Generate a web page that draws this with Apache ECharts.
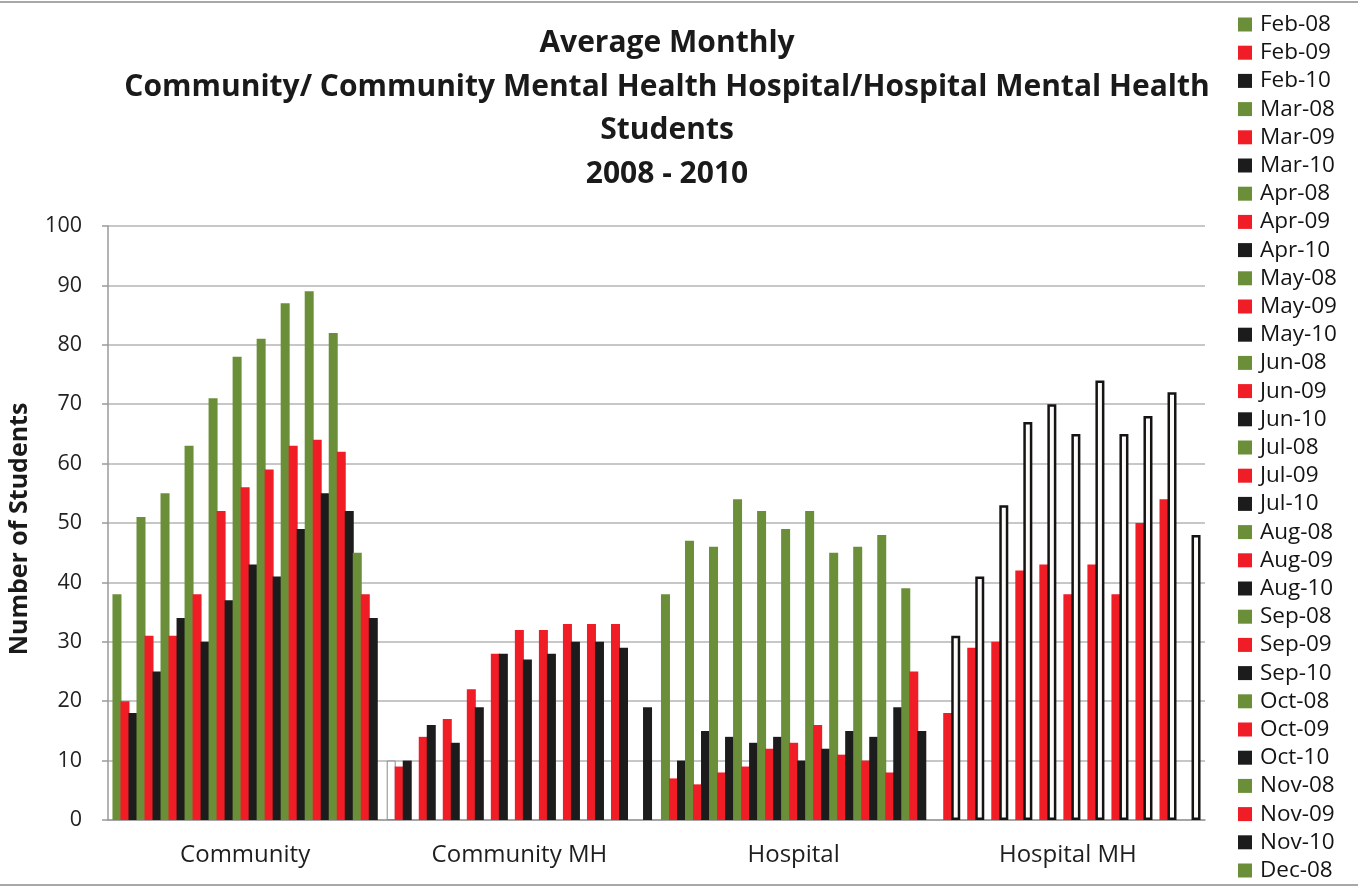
<!DOCTYPE html>
<html>
<head>
<meta charset="utf-8">
<script src="https://cdn.jsdelivr.net/npm/echarts@6/dist/echarts.min.js"></script>
<style>
  html, body { margin: 0; padding: 0; background: #ffffff; }
  #chart { width: 1358px; height: 888px; }
</style>
</head>
<body>
<div id="chart"></div>
<script>
// Areas on the category axis
const categories = ['Community', 'Community MH', 'Hospital', 'Hospital MH'];
// Months Feb..Dec and the three years; each series is "Mon-YY"
const months = ['Feb', 'Mar', 'Apr', 'May', 'Jun', 'Jul', 'Aug', 'Sep', 'Oct', 'Nov', 'Dec'];
const years = ['08', '09', '10'];

// Average monthly student counts, Feb..Dec, one list per area and year
const community08 = [38, 51, 55, 63, 71, 78, 81, 87, 89, 82, 45];
const community09 = [20, 31, 31, 38, 52, 56, 59, 63, 64, 62, 38];
const community10 = [18, 25, 34, 30, 37, 43, 41, 49, 55, 52, 34];

const communityMH08 = [10, 0, 0, 0, 0, 0, 0, 0, 0, 0, 0];
const communityMH09 = [9, 14, 17, 22, 28, 32, 32, 33, 33, 33, 0];
const communityMH10 = [10, 16, 13, 19, 28, 27, 28, 30, 30, 29, 19];

const hospital08 = [38, 47, 46, 54, 52, 49, 52, 45, 46, 48, 39];
const hospital09 = [7, 6, 8, 9, 12, 13, 16, 11, 10, 8, 25];
const hospital10 = [10, 15, 14, 13, 14, 10, 12, 15, 14, 19, 15];

const hospitalMH08 = [0, 0, 0, 0, 0, 0, 0, 0, 0, 0, 0];
const hospitalMH09 = [18, 29, 30, 42, 43, 38, 43, 38, 50, 54, 0];
const hospitalMH10 = [31, 41, 53, 67, 70, 65, 74, 65, 68, 72, 48];

// Value axis range and step
const yMin = 0;
const yMax = 100;
const yStep = 10;

const titleLines = [
  'Average Monthly',
  'Community/ Community Mental Health Hospital/Hospital Mental Health',
  'Students',
  '2008 - 2010'
];

// How many legend entries fit down the right-hand column
const legendShown = 31;

// ---- build the chart from the lists above ----
const byArea = [
  [community08, community09, community10],
  [communityMH08, communityMH09, communityMH10],
  [hospital08, hospital09, hospital10],
  [hospitalMH08, hospitalMH09, hospitalMH10]
];

const yearColors = ['#6b8f38', '#f01c26', '#1c1c1c'];
const FONT = '"Open Sans", Lato, sans-serif';

// outlined bars as printed: 2010 bars in Hospital MH and the single 2008 bar in Community MH
const hollowDark = { color: '#fffafa', borderColor: '#141414', borderWidth: 2.5 };
const hollowLight = { color: '#ffffff', borderColor: '#8a8a8a', borderWidth: 1 };

function point(ci, yi, v) {
  if (ci === 3 && yi === 2) return { value: v, itemStyle: hollowDark };
  if (ci === 1 && yi === 0 && v > 0) return { value: v, itemStyle: hollowLight };
  return v;
}

const series = [];
months.forEach((m, mi) => {
  years.forEach((y, yi) => {
    series.push({
      name: m + '-' + y,
      type: 'bar',
      barWidth: 9,
      barGap: '-11%',
      itemStyle: { color: yearColors[yi] },
      emphasis: { disabled: true },
      data: categories.map((c, ci) => point(ci, yi, byArea[ci][yi][mi]))
    });
  });
});

const chart = echarts.init(document.getElementById('chart'), null, { renderer: 'canvas' });

chart.setOption({
  animation: false,
  backgroundColor: '#ffffff',
  title: {
    text: titleLines.join('\n'),
    left: 662,
    top: 17,
    textAlign: 'center',
    textStyle: {
      fontFamily: FONT,
      fontSize: 30,
      fontWeight: 'bold',
      color: '#1a1a1a',
      lineHeight: 43.5
    }
  },
  legend: {
    orient: 'vertical',
    left: 1238,
    top: 13,
    padding: 0,
    itemWidth: 14,
    itemHeight: 14,
    itemGap: 5.2,
    icon: 'rect',
    selectedMode: false,
    textStyle: {
      fontFamily: FONT,
      fontSize: 22.5,
      color: '#141414',
      padding: [0, 0, 0, 3]
    },
    data: series.slice(0, legendShown).map(s => s.name)
  },
  grid: {
    left: 108,
    right: 153,
    top: 226,
    bottom: 68,
    outerBoundsMode: 'none',
    containLabel: false
  },
  xAxis: {
    type: 'category',
    data: categories,
    axisLine: { show: true, lineStyle: { color: '#9a9a9a', width: 1.5 } },
    axisTick: { show: false },
    axisLabel: {
      fontFamily: FONT,
      fontSize: 24,
      color: '#1e1e1e',
      margin: 23
    },
    splitLine: { show: false }
  },
  yAxis: {
    type: 'value',
    min: yMin,
    max: yMax,
    interval: yStep,
    name: 'Number of Students',
    nameLocation: 'middle',
    nameRotate: 90,
    nameGap: 76,
    nameTextStyle: {
      fontFamily: FONT,
      fontSize: 25,
      fontWeight: 'bold',
      color: '#1a1a1a',
      padding: [0, 12, 0, 0]
    },
    axisLine: { show: true, lineStyle: { color: '#9a9a9a', width: 1.5 } },
    axisTick: { show: true, length: 6, lineStyle: { color: '#9a9a9a', width: 1.5 } },
    axisLabel: {
      fontFamily: FONT,
      fontSize: 21.5,
      color: '#222222',
      margin: 26
    },
    splitLine: { show: true, lineStyle: { color: '#b4b4b4', width: 1.5 } }
  },
  graphic: [
    { type: 'line', shape: { x1: 0, y1: 2, x2: 1358, y2: 2 }, style: { stroke: '#a8a8a8', lineWidth: 2 }, silent: true },
    { type: 'line', shape: { x1: 0, y1: 885, x2: 1358, y2: 885 }, style: { stroke: '#a8a8a8', lineWidth: 2 }, silent: true }
  ],
  series: series
});
</script>
</body>
</html>
